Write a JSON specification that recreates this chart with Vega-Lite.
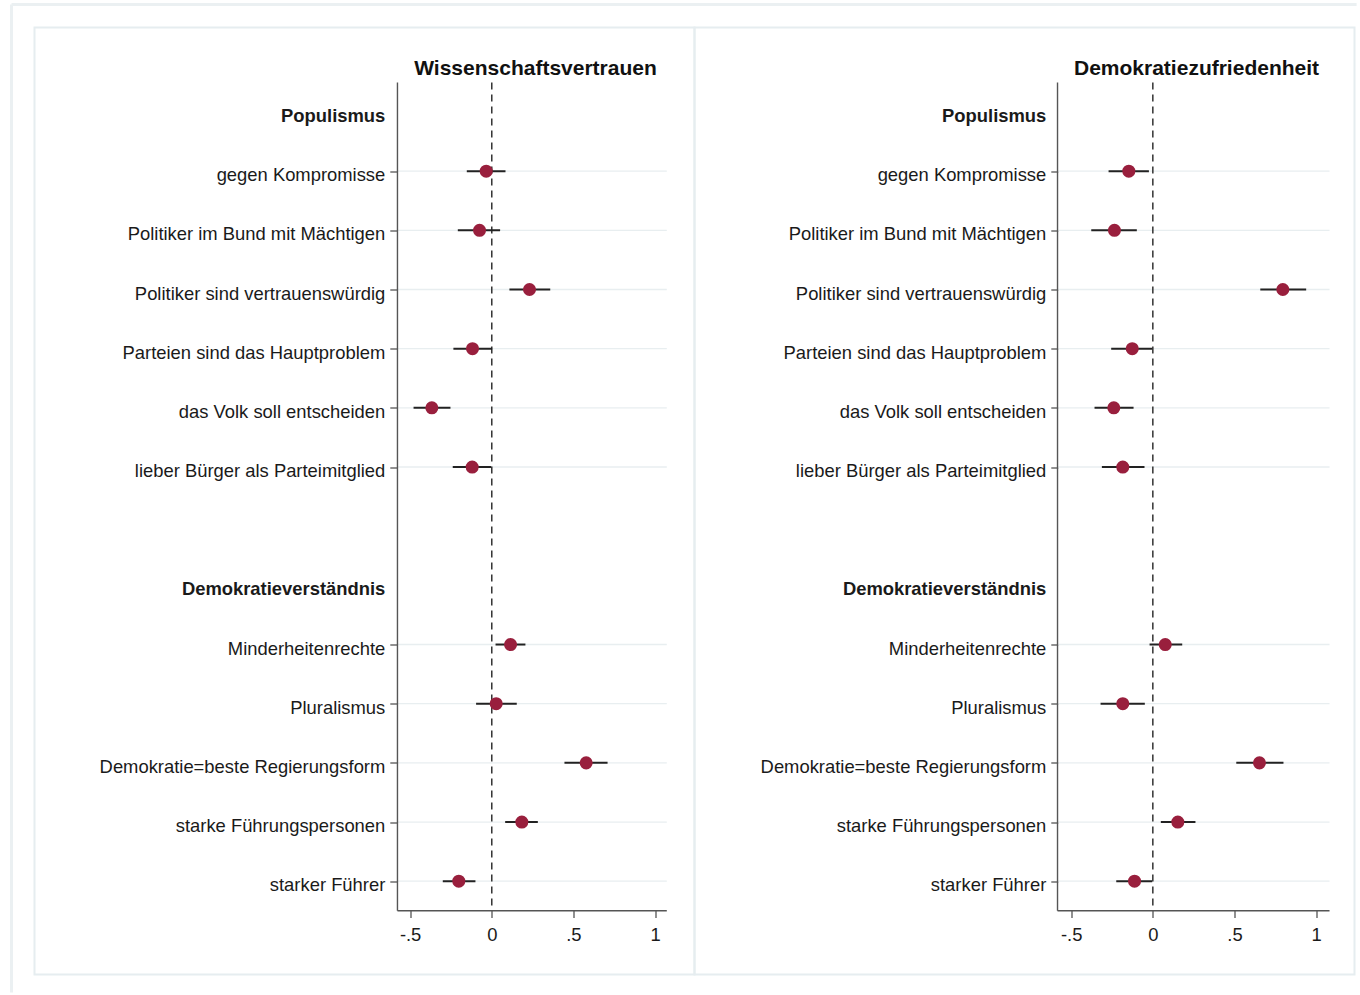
{
  "$schema": "https://vega.github.io/schema/vega-lite/v6.json",
  "background": "white",
  "padding": {"left": 8.5, "top": 1.5, "right": 0, "bottom": 0},
  "spacing": 0,
  "bounds": "flush",
  "config": {
    "font": "Liberation Sans",
    "view": {"stroke": "#e6edf0", "strokeWidth": 2},
    "axis": {"grid": false, "domain": false, "labelFont": "Liberation Sans", "labelFontSize": 18.4, "labelColor": "#1a1a1a", "tickColor": "#555555", "tickWidth": 1.3, "tickSize": 7, "labelFlush": false, "labelOverlap": false, "labelLimit": 400}
  },
  "data": {"values": [
    {"p": "W", "row": 1, "label": "gegen Kompromisse", "est": -0.034, "lo": -0.153, "hi": 0.084},
    {"p": "W", "row": 2, "label": "Politiker im Bund mit Mächtigen", "est": -0.075, "lo": -0.208, "hi": 0.051},
    {"p": "W", "row": 3, "label": "Politiker sind vertrauenswürdig", "est": 0.231, "lo": 0.108, "hi": 0.358},
    {"p": "W", "row": 4, "label": "Parteien sind das Hauptproblem", "est": -0.118, "lo": -0.235, "hi": 0.002},
    {"p": "W", "row": 5, "label": "das Volk soll entscheiden", "est": -0.367, "lo": -0.479, "hi": -0.253},
    {"p": "W", "row": 6, "label": "lieber Bürger als Parteimitglied", "est": -0.12, "lo": -0.239, "hi": -0.004},
    {"p": "W", "row": 9, "label": "Minderheitenrechte", "est": 0.115, "lo": 0.023, "hi": 0.206},
    {"p": "W", "row": 10, "label": "Pluralismus", "est": 0.027, "lo": -0.096, "hi": 0.153},
    {"p": "W", "row": 11, "label": "Demokratie=beste Regierungsform", "est": 0.578, "lo": 0.445, "hi": 0.709},
    {"p": "W", "row": 12, "label": "starke Führungspersonen", "est": 0.184, "lo": 0.082, "hi": 0.282},
    {"p": "W", "row": 13, "label": "starker Führer", "est": -0.202, "lo": -0.3, "hi": -0.1},
    {"p": "D", "row": 1, "label": "gegen Kompromisse", "est": -0.147, "lo": -0.271, "hi": -0.024},
    {"p": "D", "row": 2, "label": "Politiker im Bund mit Mächtigen", "est": -0.235, "lo": -0.377, "hi": -0.098},
    {"p": "D", "row": 3, "label": "Politiker sind vertrauenswürdig", "est": 0.796, "lo": 0.658, "hi": 0.939},
    {"p": "D", "row": 4, "label": "Parteien sind das Hauptproblem", "est": -0.126, "lo": -0.255, "hi": -0.004},
    {"p": "D", "row": 5, "label": "das Volk soll entscheiden", "est": -0.239, "lo": -0.357, "hi": -0.118},
    {"p": "D", "row": 6, "label": "lieber Bürger als Parteimitglied", "est": -0.184, "lo": -0.312, "hi": -0.051},
    {"p": "D", "row": 9, "label": "Minderheitenrechte", "est": 0.076, "lo": -0.02, "hi": 0.18},
    {"p": "D", "row": 10, "label": "Pluralismus", "est": -0.184, "lo": -0.32, "hi": -0.049},
    {"p": "D", "row": 11, "label": "Demokratie=beste Regierungsform", "est": 0.653, "lo": 0.511, "hi": 0.8},
    {"p": "D", "row": 12, "label": "starke Führungspersonen", "est": 0.153, "lo": 0.049, "hi": 0.261},
    {"p": "D", "row": 13, "label": "starker Führer", "est": -0.112, "lo": -0.224, "hi": -0.004}
  ]},
  "hconcat": [
    {
      "width": 660,
      "height": 947,
      "transform": [{"filter": "datum.p == 'W'"}],
      "layer": [
        {
          "data": {"values": [{}]},
          "mark": {"type": "rule", "color": "#ebf0f2", "strokeWidth": 3},
          "encoding": {
            "x": {"datum": -2.9408, "type": "quantitative", "scale": {"domain": [-2.8, 1.2413], "nice": false, "zero": false}},
            "y": {"datum": -1.8168, "type": "quantitative", "scale": {"domain": [-1.4281, 14.5768], "reverse": true, "nice": false, "zero": false}},
            "y2": {"datum": 14.8808}
          }
        },
        {
          "data": {"values": [{}]},
          "mark": {"type": "rule", "color": "#ebf0f2", "strokeWidth": 3},
          "encoding": {
            "x": {"datum": -2.9408, "type": "quantitative", "scale": {"domain": [-2.8, 1.2413], "nice": false, "zero": false}},
            "x2": {"datum": 5.2955},
            "y": {"datum": -1.8168, "type": "quantitative", "scale": {"domain": [-1.4281, 14.5768], "reverse": true, "nice": false, "zero": false}}
          }
        },
        {
          "mark": {"type": "rule", "color": "#e8eef0", "strokeWidth": 1.3},
          "encoding": {
            "y": {"field": "row", "type": "quantitative",
              "scale": {"domain": [-1.4281, 14.5768], "reverse": true, "nice": false, "zero": false},
              "axis": {"orient": "left", "offset": -362.3, "title": null,
                "values": [0, 1, 2, 3, 4, 5, 6, 8, 9, 10, 11, 12, 13],
                "labelExpr": "['Populismus','gegen Kompromisse','Politiker im Bund mit Mächtigen','Politiker sind vertrauenswürdig','Parteien sind das Hauptproblem','das Volk soll entscheiden','lieber Bürger als Parteimitglied','','Demokratieverständnis','Minderheitenrechte','Pluralismus','Demokratie=beste Regierungsform','starke Führungspersonen','starker Führer'][datum.value]",
                "labelFontWeight": {"condition": {"test": "datum.value == 0 || datum.value == 8", "value": "bold"}, "value": "normal"},
                "tickOpacity": {"condition": {"test": "datum.value == 0 || datum.value == 8", "value": 0}, "value": 1},
                "labelPadding": 5, "labelOffset": 3.5}},
            "x": {"datum": -0.5775, "type": "quantitative", "scale": {"domain": [-2.8, 1.2413], "nice": false, "zero": false}},
            "x2": {"datum": 1.0717}
          }
        },
        {
          "data": {"values": [{}]},
          "mark": {"type": "rule", "color": "#333333", "strokeWidth": 1.5, "strokeDash": [7, 5]},
          "encoding": {
            "x": {"datum": 0, "type": "quantitative", "scale": {"domain": [-2.8, 1.2413], "nice": false, "zero": false}},
            "y": {"datum": -0.5, "type": "quantitative", "scale": {"domain": [-1.4281, 14.5768], "reverse": true, "nice": false, "zero": false}},
            "y2": {"datum": 13.5}
          }
        },
        {
          "data": {"values": [{}]},
          "mark": {"type": "rule", "color": "#555555", "strokeWidth": 1.4},
          "encoding": {
            "x": {"datum": -0.5775, "type": "quantitative", "scale": {"domain": [-2.8, 1.2413], "nice": false, "zero": false}},
            "y": {"datum": -0.5, "type": "quantitative", "scale": {"domain": [-1.4281, 14.5768], "reverse": true, "nice": false, "zero": false}},
            "y2": {"datum": 13.5}
          }
        },
        {
          "data": {"values": [{}]},
          "mark": {"type": "rule", "color": "#555555", "strokeWidth": 1.4},
          "encoding": {
            "x": {"datum": -0.5775, "type": "quantitative", "scale": {"domain": [-2.8, 1.2413], "nice": false, "zero": false}},
            "x2": {"datum": 1.0717},
            "y": {"datum": 13.5, "type": "quantitative", "scale": {"domain": [-1.4281, 14.5768], "reverse": true, "nice": false, "zero": false}}
          }
        },
        {
          "mark": {"type": "rule", "color": "#222222", "strokeWidth": 2},
          "encoding": {
            "x": {"field": "lo", "type": "quantitative",
              "scale": {"domain": [-2.8, 1.2413], "nice": false, "zero": false},
              "axis": {"orient": "bottom", "offset": -64, "title": null, "values": [-0.5, 0, 0.5, 1],
                "labelExpr": "datum.value == 0 ? '0' : datum.value == 1 ? '1' : datum.value > 0 ? '.5' : '-.5'",
                "labelPadding": 8}},
            "x2": {"field": "hi"},
            "y": {"field": "row", "type": "quantitative", "scale": {"domain": [-1.4281, 14.5768], "reverse": true, "nice": false, "zero": false}, "axis": {"title": null}}
          }
        },
        {
          "mark": {"type": "circle", "size": 170, "color": "#991f3d", "opacity": 1},
          "encoding": {
            "x": {"field": "est", "type": "quantitative", "scale": {"domain": [-2.8, 1.2413], "nice": false, "zero": false}, "axis": {"title": null}},
            "y": {"field": "row", "type": "quantitative", "scale": {"domain": [-1.4281, 14.5768], "reverse": true, "nice": false, "zero": false}, "axis": {"title": null}}
          }
        },
        {
          "data": {"values": [{"t": "Wissenschaftsvertrauen"}]},
          "mark": {"type": "text", "fontSize": 21, "fontWeight": "bold", "align": "center", "baseline": "middle", "color": "#111111"},
          "encoding": {
            "text": {"field": "t"},
            "x": {"datum": 0.2676, "type": "quantitative", "scale": {"domain": [-2.8, 1.2413], "nice": false, "zero": false}},
            "y": {"datum": -0.735, "type": "quantitative", "scale": {"domain": [-1.4281, 14.5768], "reverse": true, "nice": false, "zero": false}}
          }
        }
      ]
    },
    {
      "width": 660,
      "height": 947,
      "transform": [{"filter": "datum.p == 'D'"}],
      "layer": [
        {
          "mark": {"type": "rule", "color": "#e8eef0", "strokeWidth": 1.3},
          "encoding": {
            "y": {"field": "row", "type": "quantitative",
              "scale": {"domain": [-1.4281, 14.5768], "reverse": true, "nice": false, "zero": false},
              "axis": {"orient": "left", "offset": -363.3, "title": null,
                "values": [0, 1, 2, 3, 4, 5, 6, 8, 9, 10, 11, 12, 13],
                "labelExpr": "['Populismus','gegen Kompromisse','Politiker im Bund mit Mächtigen','Politiker sind vertrauenswürdig','Parteien sind das Hauptproblem','das Volk soll entscheiden','lieber Bürger als Parteimitglied','','Demokratieverständnis','Minderheitenrechte','Pluralismus','Demokratie=beste Regierungsform','starke Führungspersonen','starker Führer'][datum.value]",
                "labelFontWeight": {"condition": {"test": "datum.value == 0 || datum.value == 8", "value": "bold"}, "value": "normal"},
                "tickOpacity": {"condition": {"test": "datum.value == 0 || datum.value == 8", "value": 0}, "value": 1},
                "labelPadding": 5, "labelOffset": 3.5}},
            "x": {"datum": -0.5836, "type": "quantitative", "scale": {"domain": [-2.8065, 1.2349], "nice": false, "zero": false}},
            "x2": {"datum": 1.082}
          }
        },
        {
          "data": {"values": [{}]},
          "mark": {"type": "rule", "color": "#333333", "strokeWidth": 1.5, "strokeDash": [7, 5]},
          "encoding": {
            "x": {"datum": 0, "type": "quantitative", "scale": {"domain": [-2.8065, 1.2349], "nice": false, "zero": false}},
            "y": {"datum": -0.5, "type": "quantitative", "scale": {"domain": [-1.4281, 14.5768], "reverse": true, "nice": false, "zero": false}},
            "y2": {"datum": 13.5}
          }
        },
        {
          "data": {"values": [{}]},
          "mark": {"type": "rule", "color": "#555555", "strokeWidth": 1.4},
          "encoding": {
            "x": {"datum": -0.5836, "type": "quantitative", "scale": {"domain": [-2.8065, 1.2349], "nice": false, "zero": false}},
            "y": {"datum": -0.5, "type": "quantitative", "scale": {"domain": [-1.4281, 14.5768], "reverse": true, "nice": false, "zero": false}},
            "y2": {"datum": 13.5}
          }
        },
        {
          "data": {"values": [{}]},
          "mark": {"type": "rule", "color": "#555555", "strokeWidth": 1.4},
          "encoding": {
            "x": {"datum": -0.5836, "type": "quantitative", "scale": {"domain": [-2.8065, 1.2349], "nice": false, "zero": false}},
            "x2": {"datum": 1.082},
            "y": {"datum": 13.5, "type": "quantitative", "scale": {"domain": [-1.4281, 14.5768], "reverse": true, "nice": false, "zero": false}}
          }
        },
        {
          "mark": {"type": "rule", "color": "#222222", "strokeWidth": 2},
          "encoding": {
            "x": {"field": "lo", "type": "quantitative",
              "scale": {"domain": [-2.8065, 1.2349], "nice": false, "zero": false},
              "axis": {"orient": "bottom", "offset": -64, "title": null, "values": [-0.5, 0, 0.5, 1],
                "labelExpr": "datum.value == 0 ? '0' : datum.value == 1 ? '1' : datum.value > 0 ? '.5' : '-.5'",
                "labelPadding": 8}},
            "x2": {"field": "hi"},
            "y": {"field": "row", "type": "quantitative", "scale": {"domain": [-1.4281, 14.5768], "reverse": true, "nice": false, "zero": false}, "axis": {"title": null}}
          }
        },
        {
          "mark": {"type": "circle", "size": 170, "color": "#991f3d", "opacity": 1},
          "encoding": {
            "x": {"field": "est", "type": "quantitative", "scale": {"domain": [-2.8065, 1.2349], "nice": false, "zero": false}, "axis": {"title": null}},
            "y": {"field": "row", "type": "quantitative", "scale": {"domain": [-1.4281, 14.5768], "reverse": true, "nice": false, "zero": false}, "axis": {"title": null}}
          }
        },
        {
          "data": {"values": [{"t": "Demokratiezufriedenheit"}]},
          "mark": {"type": "text", "fontSize": 21, "fontWeight": "bold", "align": "center", "baseline": "middle", "color": "#111111"},
          "encoding": {
            "text": {"field": "t"},
            "x": {"datum": 0.2676, "type": "quantitative", "scale": {"domain": [-2.8065, 1.2349], "nice": false, "zero": false}},
            "y": {"datum": -0.735, "type": "quantitative", "scale": {"domain": [-1.4281, 14.5768], "reverse": true, "nice": false, "zero": false}}
          }
        }
      ]
    }
  ]
}
